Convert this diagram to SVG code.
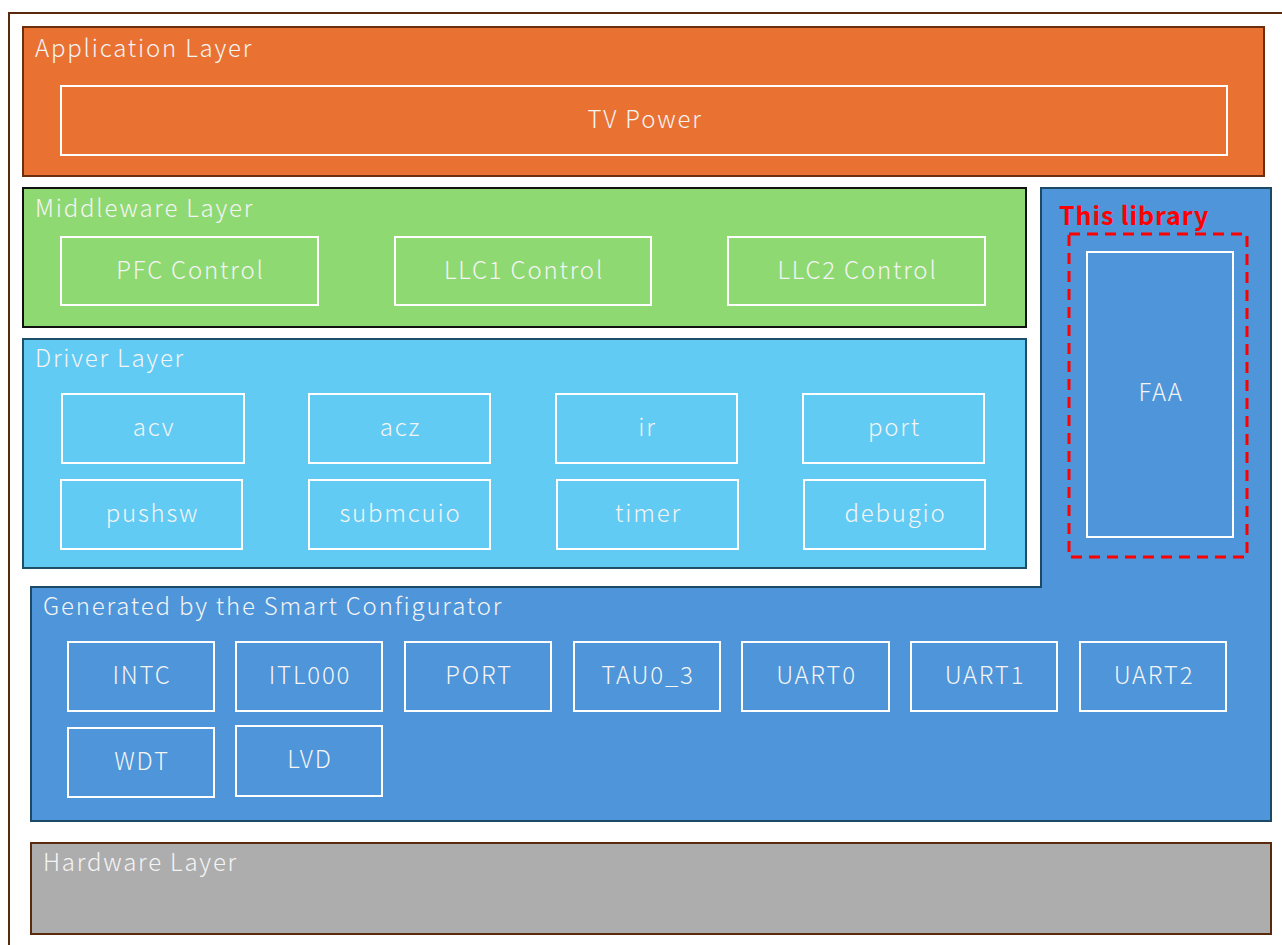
<svg xmlns="http://www.w3.org/2000/svg" width="1282" height="945" viewBox="0 0 1282 945">
<style>
text{font-family:"Noto Sans CJK JP","Noto Sans",sans-serif;font-weight:300;fill:#f4f4f4;font-size:24px;letter-spacing:1.8px}
.c{text-anchor:middle}
.box{fill:none;stroke:#ffffff;stroke-width:2}
</style>
<rect x="9" y="13" width="1290" height="950" fill="#ffffff" stroke="#5a2a0c" stroke-width="2"/>
<g id="app-layer">
<rect x="23" y="27" width="1241" height="149" fill="#e97132" stroke="#6b2f10" stroke-width="2"/>
<text x="35" y="57">Application Layer</text>
</g>
<g id="tv-power">
<rect class="box" x="61" y="86" width="1166" height="69"/>
<text class="c" x="645" y="128">TV Power</text>
</g>
<g id="middleware-layer">
<rect x="23" y="188" width="1003" height="139" fill="#8fd973" stroke="#111111" stroke-width="2"/>
<text x="35" y="217">Middleware Layer</text>
</g>
<g id="pfc"><rect class="box" x="61" y="237" width="257" height="68"/><text class="c" x="190.5" y="279">PFC Control</text></g>
<g id="llc1"><rect class="box" x="395" y="237" width="256" height="68"/><text class="c" x="524" y="279">LLC1 Control</text></g>
<g id="llc2"><rect class="box" x="728" y="237" width="257" height="68"/><text class="c" x="857.5" y="279">LLC2 Control</text></g>
<g id="driver-layer">
<rect x="23" y="339" width="1003" height="229" fill="#61cbf3" stroke="#1f4e69" stroke-width="2"/>
<text x="35" y="367">Driver Layer</text>
</g>
<g id="acv"><rect class="box" x="62" y="394" width="182" height="69"/><text class="c" x="154" y="436">acv</text></g>
<g id="acz"><rect class="box" x="309" y="394" width="181" height="69"/><text class="c" x="400.5" y="436">acz</text></g>
<g id="ir"><rect class="box" x="556" y="394" width="181" height="69"/><text class="c" x="647.5" y="436">ir</text></g>
<g id="port"><rect class="box" x="803" y="394" width="181" height="69"/><text class="c" x="894.5" y="436">port</text></g>
<g id="pushsw"><rect class="box" x="61" y="480" width="181" height="69"/><text class="c" x="152.5" y="522">pushsw</text></g>
<g id="submcuio"><rect class="box" x="309" y="480" width="181" height="69"/><text class="c" x="400.5" y="522">submcuio</text></g>
<g id="timer"><rect class="box" x="557" y="480" width="181" height="69"/><text class="c" x="648.5" y="522">timer</text></g>
<g id="debugio"><rect class="box" x="804" y="480" width="181" height="69"/><text class="c" x="895.5" y="522">debugio</text></g>
<g id="smart-configurator">
<path d="M1041 188 H1271 V821 H31 V587 H1041 Z" fill="#4e95d9" stroke="#1c4966" stroke-width="2"/>
<text x="43" y="615">Generated by the Smart Configurator</text>
</g>
<g id="intc"><rect class="box" x="68" y="642" width="146" height="69"/><text class="c" x="142" y="684">INTC</text></g>
<g id="itl000"><rect class="box" x="236" y="642" width="146" height="69"/><text class="c" x="310" y="684">ITL000</text></g>
<g id="port-sc"><rect class="box" x="405" y="642" width="146" height="69"/><text class="c" x="479" y="684">PORT</text></g>
<g id="tau0_3"><rect class="box" x="574" y="642" width="146" height="69"/><text class="c" x="648" y="684">TAU0_3</text></g>
<g id="uart0"><rect class="box" x="742" y="642" width="147" height="69"/><text class="c" x="816.5" y="684">UART0</text></g>
<g id="uart1"><rect class="box" x="911" y="642" width="146" height="69"/><text class="c" x="985" y="684">UART1</text></g>
<g id="uart2"><rect class="box" x="1080" y="642" width="146" height="69"/><text class="c" x="1154" y="684">UART2</text></g>
<g id="wdt"><rect class="box" x="68" y="728" width="146" height="69"/><text class="c" x="142" y="770">WDT</text></g>
<g id="lvd"><rect class="box" x="236" y="726" width="146" height="70"/><text class="c" x="310" y="768">LVD</text></g>
<g id="this-library">
<text x="1059" y="225" style="fill:#ff0000;font-weight:700;font-size:25px;letter-spacing:0.9px">This library</text>
<rect x="1069" y="234" width="178" height="323" fill="none" stroke="#ff0000" stroke-width="3" stroke-dasharray="11,7"/>
</g>
<g id="faa"><rect class="box" x="1087" y="252" width="146" height="285"/><text class="c" x="1161" y="401">FAA</text></g>
<g id="hardware-layer">
<rect x="31" y="843" width="1240" height="91" fill="#adadad" stroke="#5a2a0c" stroke-width="2"/>
<text x="43" y="871">Hardware Layer</text>
</g>
<g id="connectors"/>
</svg>
